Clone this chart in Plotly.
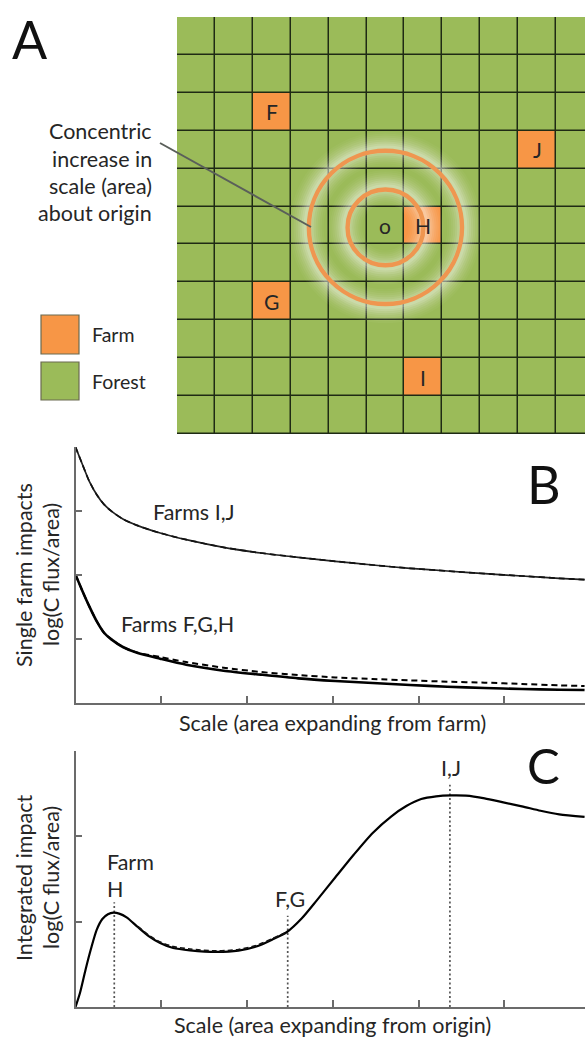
import plotly.graph_objects as go

W, H = 585, 1037
FONT = "Lato"
TEXT = "#262626"
AXIS = "#6b6b6b"
FOREST = "#9BBB59"
FARM = "#F79646"

# Panel A
n_rows, n_cols = 11, 11
farm_cells = {"F": (2, 2), "J": (9, 3), "H": (6, 5), "G": (2, 7), "I": (6, 9)}
origin_cell = ("o", (5, 5))
ring_radii = [1.0, 2.02]
cell_px = 37.9

# Panel B
b_x = [0, .074, .161, .248, .335, .422, .552, .726, .987, 1.291, 1.726, 2.161, 2.596, 3.03, 3.465, 3.9, 4.335, 4.77, 5.204, 5.639, 5.935]
b_ij = [4.0, 3.75, 3.464, 3.255, 3.099, 2.995, 2.875, 2.771, 2.656, 2.552, 2.432, 2.344, 2.276, 2.214, 2.156, 2.104, 2.0625, 2.021, 1.984, 1.948, 1.927]
b_fgh = [2.005, 1.771, 1.51, 1.276, 1.094, .99, .875, .781, .693, .599, .505, .443, .385, .344, .3125, .281, .255, .234, .219, .208, .203]
b_fgh_dash = [2.005, 1.771, 1.51, 1.276, 1.094, .99, .875, .785, .719, .64, .552, .484, .4375, .40, .375, .354, .333, .318, .297, .276, .266]

# Panel C
c_x = [0, .052, .117, .183, .248, .313, .378, .443, .509, .596, .726, .857, .987, 1.139, 1.335, 1.639, 1.9, 2.117, 2.291, 2.465, 2.639, 2.813, 3.03, 3.248, 3.465, 3.683, 3.857, 4.03, 4.204, 4.378, 4.552, 4.77, 4.987, 5.204, 5.422, 5.639, 5.935]
c_y = [0, .164, .4375, .691, .906, 1.031, 1.086, 1.105, 1.094, 1.051, .9375, .828, .75, .691, .664, .645, .66, .711, .789, .879, 1.04, 1.25, 1.52, 1.79, 2.04, 2.235, 2.355, 2.4375, 2.469, 2.48, 2.477, 2.445, 2.398, 2.352, 2.30, 2.258, 2.227]
c_dash_x = [.726, .857, .987, 1.139, 1.335, 1.639, 1.9, 2.117, 2.291, 2.465]
c_dash_y = [.945, .838, .762, .708, .680, .657, .674, .724, .798, .879]
drop_x = [.452, 2.474, 4.365]
drop_top = [1.227, 1.07, 2.605]

X_RANGE = [0, 5.94]
x_ticks = [1, 2, 3, 4, 5]


def px(x):
    return x / W


def py(y):
    return 1 - y / H


def curve(color, width, dash="solid"):
    return dict(color=color, width=width, dash=dash, shape="spline", smoothing=0.7)


z = [[0] * n_cols for _ in range(n_rows)]
for col, row in farm_cells.values():
    z[row][col] = 1

fig = go.Figure()
fig.add_trace(go.Heatmap(
    z=z, x=[c + .5 for c in range(n_cols)], y=[r + .5 for r in range(n_rows)],
    colorscale=[[0, FOREST], [1, FARM]], zmin=0, zmax=1, showscale=False,
    xgap=1.5, ygap=1.5, hoverinfo="skip", xaxis="x", yaxis="y"))

fig.add_trace(go.Scatter(x=b_x, y=b_ij, mode="lines", line=curve("#222", 1.7), xaxis="x2", yaxis="y2", hoverinfo="skip"))
fig.add_trace(go.Scatter(x=b_x, y=b_ij, mode="lines", line=curve("#111", 1.7, "6px,4px"), xaxis="x2", yaxis="y2", hoverinfo="skip"))
fig.add_trace(go.Scatter(x=b_x, y=b_fgh, mode="lines", line=curve("#000", 2.6), xaxis="x2", yaxis="y2", hoverinfo="skip"))
fig.add_trace(go.Scatter(x=b_x, y=b_fgh_dash, mode="lines", line=curve("#000", 2.0, "6px,4px"), xaxis="x2", yaxis="y2", hoverinfo="skip"))

for dx, dt in zip(drop_x, drop_top):
    fig.add_trace(go.Scatter(x=[dx, dx], y=[0, dt], mode="lines", line=dict(color="#555", width=1.7, dash="2px,2.5px"), xaxis="x3", yaxis="y3", hoverinfo="skip"))
fig.add_trace(go.Scatter(x=c_x, y=c_y, mode="lines", line=curve("#000", 2.2), xaxis="x3", yaxis="y3", hoverinfo="skip"))
fig.add_trace(go.Scatter(x=c_dash_x, y=c_dash_y, mode="lines", line=curve("#111", 1.7, "5px,3px"), xaxis="x3", yaxis="y3", hoverinfo="skip"))

# dark backing seen through the gaps between the cells
shapes = [dict(type="rect", xref="x", yref="y", x0=0, x1=n_cols, y0=0, y1=n_rows,
               fillcolor="#1f2a14", line=dict(color="#1f2a14", width=1), layer="below")]
cx, cy = origin_cell[1][0] + .5, origin_cell[1][1] + .55
for r in ring_radii:
    for w, op in [(34, .03), (30, .04), (26, .05), (22, .06), (18, .08), (14, .10), (10, .12), (6, .14)]:
        shapes.append(dict(type="circle", xref="x", yref="y", x0=cx - r - .06, x1=cx + r + .06, y0=cy - r - .06, y1=cy + r + .06,
                           line=dict(color="white", width=w), opacity=op, layer="above"))
for r in ring_radii:
    shapes.append(dict(type="circle", xref="x", yref="y", x0=cx - r, x1=cx + r, y0=cy - r, y1=cy + r,
                       line=dict(color="#EF9650", width=4.4), layer="above"))
# leader line
shapes.append(dict(type="line", xref="paper", yref="paper", x0=px(160), y0=py(143), x1=px(311), y1=py(227),
                   line=dict(color="#5a5f5a", width=2), layer="above"))
# legend swatches
for (y0, y1, col) in [(315, 354, FARM), (362, 400, FOREST)]:
    shapes.append(dict(type="rect", xref="paper", yref="paper", x0=px(41), x1=px(79), y0=py(y1), y1=py(y0),
                       fillcolor=col, line=dict(color="#6a6a50", width=1.2)))


def note(text, x, y, size=21.5, anchor="center", angle=0, family=FONT, color=TEXT):
    return dict(text=text, x=px(x), y=py(y), xref="paper", yref="paper", showarrow=False,
                xanchor=anchor, yanchor="middle", textangle=angle,
                font=dict(family=family, size=size, color=color))


annots = []
for name, (col, row) in list(farm_cells.items()) + [origin_cell]:
    annots.append(dict(text=name, x=col + .5, y=row + .5, xref="x", yref="y", showarrow=False,
                       font=dict(family=FONT, size=21, color=TEXT)))

annots += [
    note("A", 29.5, 39, size=52, color="#111"),
    note("B", 544, 484, size=52, color="#111"),
    note("C", 543, 765, size=49, color="#111"),
    note("Concentric", 154, 131, anchor="right"),
    note("increase in", 154, 159, anchor="right"),
    note("scale (area)", 154, 186, anchor="right"),
    note("about origin", 154, 213, anchor="right"),
    note("Farm", 90, 335, size=19.5, anchor="left"),
    note("Forest", 90, 381, size=19.5, anchor="left"),
    note("Single farm impacts", 24, 575, angle=-90),
    note("log(C flux/area)", 51, 575, angle=-90),
    note("Integrated impact", 24, 878, angle=-90),
    note("log(C flux/area)", 51, 878, angle=-90),
    note("Farms I,J", 151, 512, anchor="left"),
    note("Farms F,G,H", 119, 624, anchor="left"),
    note("Scale (area expanding from farm)", 332, 723),
    note("Scale (area expanding from origin)", 332, 1025),
    note("Farm", 105, 862, anchor="left"),
    note("H", 105, 889, anchor="left"),
    note("F,G", 290, 899),
    note("I,J", 451, 768),
]


def line_axes(domain_x, domain_y, xr, yr, yticks):
    xa = dict(domain=domain_x, range=xr, showgrid=False, zeroline=False, showline=True, linecolor=AXIS, linewidth=2,
              ticks="inside", ticklen=7, tickwidth=1.5, tickcolor=AXIS, tickvals=x_ticks, showticklabels=False)
    ya = dict(domain=domain_y, range=yr, showgrid=False, zeroline=False, showline=True, linecolor=AXIS, linewidth=2,
              ticks="inside", ticklen=6, tickwidth=1.5, tickcolor=AXIS, tickvals=yticks, showticklabels=False)
    return xa, ya


x2, y2 = line_axes([px(75.5), 1], [py(703), py(447)], X_RANGE, [0, 4], [1, 2, 3, 4])
x3, y3 = line_axes([px(75.5), 1], [py(1007), py(751)], X_RANGE, [0, 3], [1, 2, 3])
x2["anchor"] = "y2"; y2["anchor"] = "x2"
x3["anchor"] = "y3"; y3["anchor"] = "x3"

fig.update_layout(
    width=W, height=H, margin=dict(l=0, r=0, t=0, b=0), autosize=False,
    paper_bgcolor="white", plot_bgcolor="white", showlegend=False,
    xaxis=dict(domain=[px(177), 1], range=[0, (585 - 177) / cell_px], visible=False),
    yaxis=dict(domain=[py(434), py(17)], range=[n_rows, 0], visible=False),
    xaxis2=x2, yaxis2=y2, xaxis3=x3, yaxis3=y3,
    shapes=shapes, annotations=annots,
)

fig.write_html("out.html", config=dict(displayModeBar=False),
               post_script="document.body.style.margin='0';document.body.style.overflow='hidden';")
